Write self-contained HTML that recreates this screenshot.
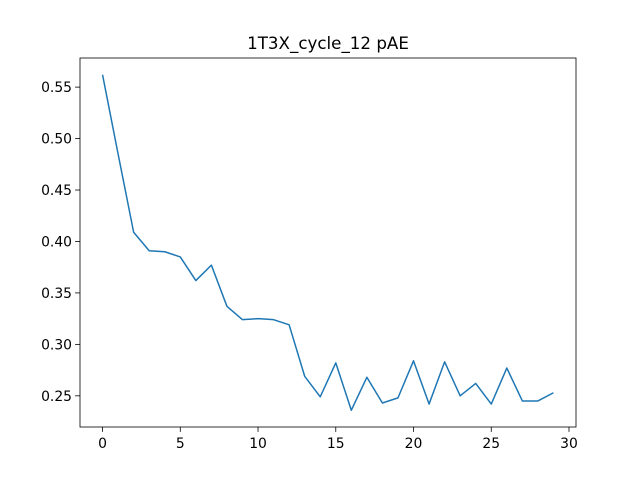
<!DOCTYPE html>
<html><head><meta charset="utf-8"><style>body{margin:0;background:#fff}svg{display:block;font-family:"DejaVu Sans","Liberation Sans",sans-serif}</style></head>
<body>
<svg id="c" width="640" height="480"></svg>
<script>
const xValues=[0,1,2,3,4,5,6,7,8,9,10,11,12,13,14,15,16,17,18,19,20,21,22,23,24,25,26,27,28,29];
const yValues=[0.562,0.485,0.409,0.391,0.390,0.385,0.362,0.377,0.337,0.324,0.325,0.324,0.319,0.269,0.249,0.282,0.236,0.268,0.243,0.248,0.284,0.242,0.283,0.250,0.262,0.242,0.277,0.245,0.245,0.253];
const xTicks=[0,5,10,15,20,25,30];
const yTicks=[0.25,0.30,0.35,0.40,0.45,0.50,0.55];
const L=80,R=576,T=58,B=427;
const ns="http://www.w3.org/2000/svg";
const svg=document.getElementById('c');
const xmin=Math.min(...xValues),xmax=Math.max(...xValues),xm=(xmax-xmin)*0.05;
const ymin=Math.min(...yValues),ymax=Math.max(...yValues),ym=(ymax-ymin)*0.05;
const sx=v=>L+(v-(xmin-xm))/((xmax+xm)-(xmin-xm))*(R-L);
const sy=v=>B-(v-(ymin-ym))/((ymax+ym)-(ymin-ym))*(B-T);
function mk(t,a,p){const e=document.createElementNS(ns,t);for(const k in a)e.setAttribute(k,a[k]);(p||svg).appendChild(e);return e;}
const title=mk('text',{x:(L+R)/2,y:49,'text-anchor':'middle','font-size':16.7,fill:'#000'});
title.textContent='1T3X_cycle_12 pAE';


xTicks.forEach(v=>{const x=sx(v);
const t=mk('line',{x1:x,x2:x,y1:B,y2:B+4.9,stroke:'#000','stroke-width':0.8});


const l=mk('text',{x:x,y:B+21,'text-anchor':'middle','font-size':13.9,fill:'#000'});l.textContent=v;

});
yTicks.forEach(v=>{const y=sy(v);
const t=mk('line',{x1:L-4.9,x2:L,y1:y,y2:y,stroke:'#000','stroke-width':0.8});


const l=mk('text',{x:L-8,y:y+5,'text-anchor':'end','font-size':13.9,fill:'#000'});l.textContent=v.toFixed(2);

});
const p=mk('polyline',{points:xValues.map((x,i)=>sx(x)+','+sy(yValues[i])).join(' '),fill:'none',stroke:'#1f77b4','stroke-width':1.5,'stroke-linejoin':'round'});


const f=mk('rect',{x:L,y:T,width:R-L,height:B-T,fill:'none',stroke:'#000','stroke-width':0.8});


</script>
</body></html>
